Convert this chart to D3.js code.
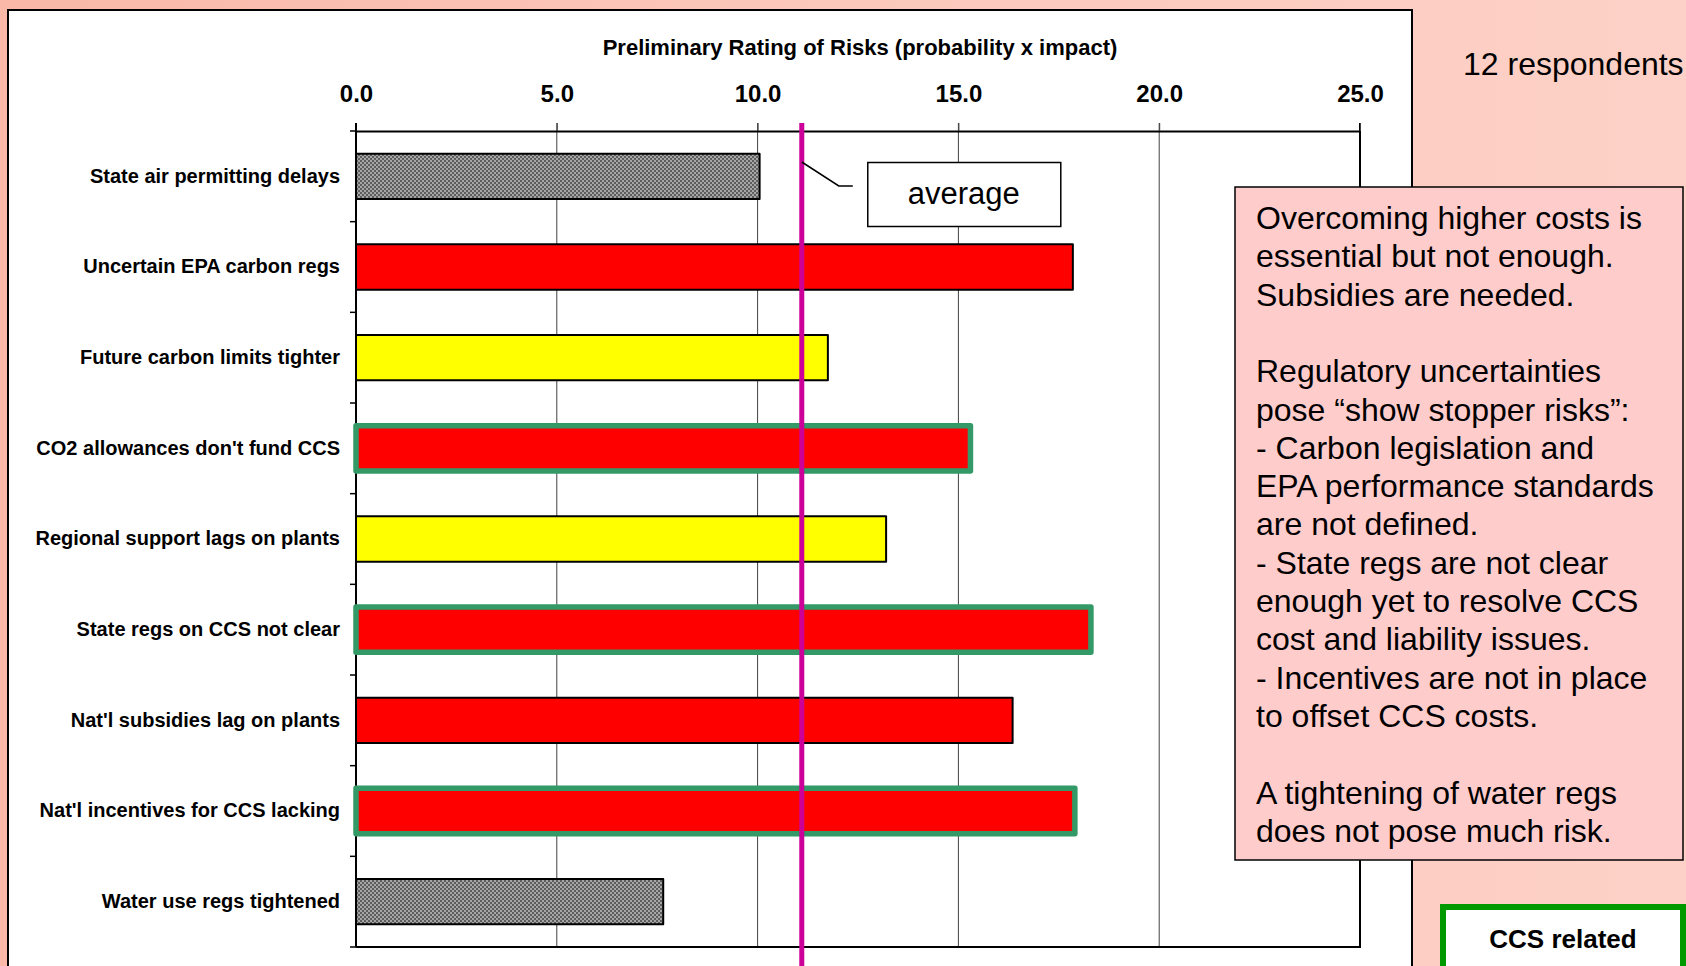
<!DOCTYPE html>
<html>
<head>
<meta charset="utf-8">
<script src="https://cdn.jsdelivr.net/npm/d3@7/dist/d3.min.js"></script>
<style>
  body { margin: 0; overflow: hidden; }
  svg text { font-family: Arial, "Liberation Sans", sans-serif; fill: #000; }
</style>
</head>
<body>
<svg id="chart" width="1686" height="966"></svg>
<script>
// data
const categories = [
  "State air permitting delays",
  "Uncertain EPA carbon regs",
  "Future carbon limits tighter",
  "CO2 allowances don't fund CCS",
  "Regional support lags on plants",
  "State regs on CCS not clear",
  "Nat'l subsidies lag on plants",
  "Nat'l incentives for CCS lacking",
  "Water use regs tightened"
];
const ratings = [10.05, 17.85, 11.75, 15.3, 13.2, 18.3, 16.35, 17.9, 7.65];
const riskLevel = ["low", "high", "medium", "high", "medium", "high", "high", "high", "low"];
const ccsRelated = [false, false, false, true, false, true, false, true, false];
const averageRating = 11.1;
const xTicks = [0, 5, 10, 15, 20, 25];
const chartTitle = "Preliminary Rating of Risks (probability x impact)";
const respondentsText = "12 respondents";
const noteLines = [
  "Overcoming higher costs is",
  "essential but not enough.",
  "Subsidies are needed.",
  "",
  "Regulatory uncertainties",
  "pose \u201cshow stopper risks\u201d:",
  "- Carbon legislation and",
  "EPA performance standards",
  "are not defined.",
  "- State regs are not clear",
  "enough yet to resolve CCS",
  "cost and liability issues.",
  "- Incentives are not in place",
  "to offset CCS costs.",
  "",
  "A tightening of water regs",
  "does not pose much risk."
];
const legendText = "CCS related";

const rows = categories.map((c, i) => ({
  name: c, value: ratings[i], level: riskLevel[i], ccs: ccsRelated[i]
}));

const svg = d3.select("#chart");
const defs = svg.append("defs");

// slide background
const bg = defs.append("linearGradient").attr("id", "bgGrad")
  .attr("x1", 0).attr("y1", 0).attr("x2", 1).attr("y2", 0);
bg.append("stop").attr("offset", 0).attr("stop-color", "#f9b8a8");
bg.append("stop").attr("offset", 0.5).attr("stop-color", "#fcc8bc");
bg.append("stop").attr("offset", 1).attr("stop-color", "#fdd1c7");

// fine grey hatch for low risks
const hatch = defs.append("pattern").attr("id", "hatch")
  .attr("width", 4).attr("height", 4).attr("patternUnits", "userSpaceOnUse");
hatch.append("rect").attr("width", 4).attr("height", 4).attr("fill", "#a6a6a6");
hatch.append("rect").attr("width", 2).attr("height", 2).attr("fill", "#5e5e5e");
hatch.append("rect").attr("x", 2).attr("y", 2).attr("width", 2).attr("height", 2).attr("fill", "#5e5e5e");

svg.append("rect").attr("width", 1686).attr("height", 966).attr("fill", "url(#bgGrad)");

// chart frame
svg.append("rect")
  .attr("x", 8).attr("y", 10).attr("width", 1404).attr("height", 980)
  .attr("fill", "#fff").attr("stroke", "#000").attr("stroke-width", 2);

const plot = { left: 356, right: 1360, top: 131, bottom: 947 };

const x = d3.scaleLinear().domain([0, 25]).range([plot.left, plot.right]);
const y = d3.scaleBand().domain(categories)
  .range([plot.top, plot.bottom]).paddingInner(0.5).paddingOuter(0.25);

const fillOf = d3.scaleOrdinal()
  .domain(["low", "medium", "high"])
  .range(["url(#hatch)", "#ffff00", "#ff0000"]);

// title
svg.append("text")
  .attr("x", 860).attr("y", 55)
  .attr("text-anchor", "middle")
  .style("font-size", "22px").style("font-weight", "bold")
  .text(chartTitle);

// gridlines
svg.append("g").selectAll("line")
  .data(xTicks.slice(1, -1))
  .join("line")
  .attr("x1", d => x(d)).attr("x2", d => x(d))
  .attr("y1", plot.top - 8).attr("y2", plot.bottom)
  .attr("stroke", "#404040").attr("stroke-width", 1);

// plot border (right + bottom)
svg.append("path")
  .attr("d", `M${x(25)},${plot.top - 8}V${plot.bottom}H${plot.left}`)
  .attr("fill", "none").attr("stroke", "#000").attr("stroke-width", 2);

// top axis
const xAxis = d3.axisTop(x)
  .tickValues(xTicks)
  .tickFormat(d3.format(".1f"))
  .tickSizeInner(8).tickSizeOuter(0).tickPadding(21);

const xg = svg.append("g")
  .attr("transform", `translate(0,${plot.top})`)
  .call(xAxis);
xg.select(".domain").attr("stroke", "#000").attr("stroke-width", 2);
xg.selectAll(".tick line").attr("stroke", "#404040");
xg.selectAll(".tick text")
  .attr("fill", "#000")
  .style("font-size", "24px").style("font-weight", "bold")
  .style("font-family", "Arial, 'Liberation Sans', sans-serif");

// left axis labels (ticks are drawn at the category boundaries below)
const yAxis = d3.axisLeft(y).tickSize(0).tickPadding(16);
const yg = svg.append("g")
  .attr("transform", `translate(${plot.left},0)`)
  .call(yAxis);
yg.select(".domain").remove();
yg.selectAll(".tick text")
  .attr("fill", "#000")
  .style("font-size", "20px").style("font-weight", "bold")
  .style("font-family", "Arial, 'Liberation Sans', sans-serif");

const gap = (y.step() - y.bandwidth()) / 2;
const bounds = categories.map(c => y(c) - gap).concat([plot.bottom]);
svg.append("g").selectAll("line")
  .data(bounds)
  .join("line")
  .attr("x1", plot.left - 6).attr("x2", plot.left)
  .attr("y1", d => d).attr("y2", d => d)
  .attr("stroke", "#000").attr("stroke-width", 1.5);

svg.append("line")
  .attr("x1", plot.left).attr("x2", plot.left)
  .attr("y1", plot.top - 8).attr("y2", plot.bottom)
  .attr("stroke", "#000").attr("stroke-width", 2);

// bars
svg.append("g").selectAll("rect")
  .data(rows)
  .join("rect")
  .attr("x", x(0))
  .attr("y", d => y(d.name))
  .attr("width", d => x(d.value) - x(0))
  .attr("height", y.bandwidth())
  .attr("fill", d => fillOf(d.level))
  .attr("stroke", d => d.ccs ? "#339966" : "#000")
  .attr("stroke-width", d => d.ccs ? 5.5 : 2)
  .attr("stroke-linejoin", "round");

// average line + callout
const ax = x(averageRating);
svg.append("line")
  .attr("x1", ax).attr("x2", ax)
  .attr("y1", plot.top - 8).attr("y2", 966)
  .attr("stroke", "#cc0099").attr("stroke-width", 5);

svg.append("path")
  .attr("d", `M${ax},${162}L${ax + 37},${186}H${ax + 51}`)
  .attr("fill", "none").attr("stroke", "#000").attr("stroke-width", 1.5);

svg.append("rect")
  .attr("x", ax + 66).attr("y", 162.5)
  .attr("width", 193).attr("height", 64)
  .attr("fill", "#fff").attr("stroke", "#000").attr("stroke-width", 1.5);
svg.append("text")
  .attr("x", ax + 162).attr("y", 204)
  .attr("text-anchor", "middle")
  .style("font-size", "31px")
  .text("average");

// respondents count
svg.append("text")
  .attr("x", 1463).attr("y", 75)
  .style("font-size", "32px")
  .text(respondentsText);

// comment box
svg.append("rect")
  .attr("x", 1235).attr("y", 187)
  .attr("width", 448).attr("height", 673)
  .attr("fill", "#ffcccc").attr("stroke", "#000").attr("stroke-width", 1.5);

svg.append("g").selectAll("text")
  .data(noteLines)
  .join("text")
  .attr("x", 1256)
  .attr("y", (d, i) => 229 + i * 38.3)
  .style("font-size", "32px")
  .text(d => d);

// legend box
svg.append("rect")
  .attr("x", 1443).attr("y", 907)
  .attr("width", 240).attr("height", 90)
  .attr("fill", "#fff").attr("stroke", "#009900").attr("stroke-width", 6);
svg.append("text")
  .attr("x", 1563).attr("y", 948)
  .attr("text-anchor", "middle")
  .style("font-size", "26px").style("font-weight", "bold")
  .text(legendText);
</script>
</body>
</html>
